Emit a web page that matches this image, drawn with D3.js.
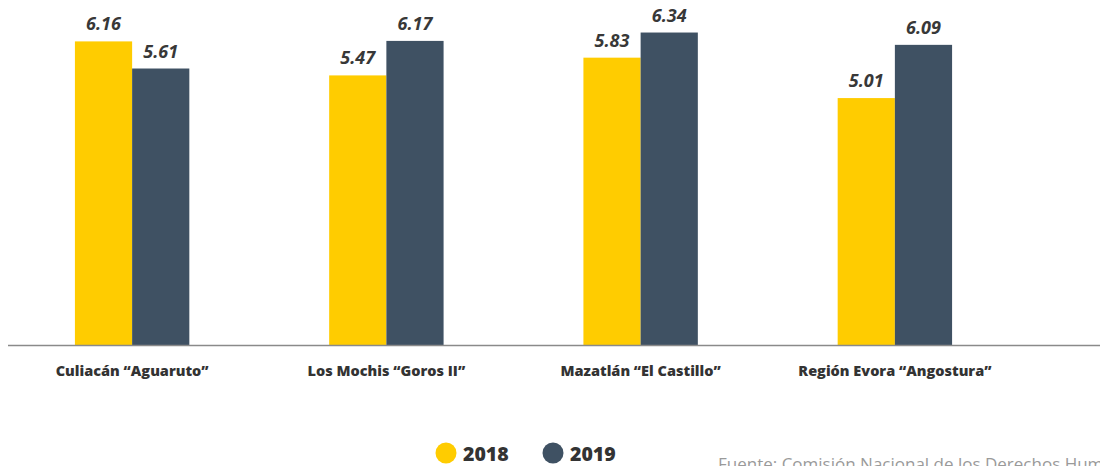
<!DOCTYPE html>
<html>
<head>
<meta charset="utf-8">
<script src="https://cdn.jsdelivr.net/npm/d3@7"></script>
<style>
  html, body { margin: 0; padding: 0; background: #fff; }
  svg { display: block; }
</style>
</head>
<body>
<svg id="chart" width="1100" height="466"></svg>
<script>
// Centros penitenciarios evaluados
const centros = ["Culiacán “Aguaruto”", "Los Mochis “Goros II”", "Mazatlán “El Castillo”", "Región Evora “Angostura”"];
const anios = ["2018", "2019"];
// Calificación por año
const valores2018 = [6.16, 5.47, 5.83, 5.01];
const valores2019 = [5.61, 6.17, 6.34, 6.09];
const colores = ["#FFCC00", "#3F5163"];
const fuente = "Fuente: Comisión Nacional de los Derechos Humanos";

const series = [valores2018, valores2019];
const rows = centros.map((c, i) => ({ centro: c, vals: anios.map((a, j) => ({ anio: a, v: series[j][i] })) }));

const svg = d3.select("#chart");
const baseY = 345;

const x0 = d3.scaleBand().domain(centros).range([5, 1022]).paddingInner(0.55).paddingOuter(0.275);
const x1 = d3.scaleBand().domain(anios).range([0, x0.bandwidth()]);
const y = d3.scaleLinear().domain([0, 7]).range([baseY, 0]);
const color = d3.scaleOrdinal().domain(anios).range(colores);

const g = svg.append("g");
const grupos = g.selectAll("g.grupo").data(rows).join("g")
  .attr("class", "grupo")
  .attr("transform", d => `translate(${x0(d.centro)},0)`);

grupos.selectAll("rect").data(d => d.vals).join("rect")
  .attr("x", d => x1(d.anio))
  .attr("y", d => y(d.v))
  .attr("width", x1.bandwidth())
  .attr("height", d => baseY - y(d.v))
  .attr("fill", d => color(d.anio));

grupos.selectAll("text.valor").data(d => d.vals).join("text")
  .attr("class", "valor")
  .attr("x", d => x1(d.anio) + x1.bandwidth() / 2)
  .attr("y", d => y(d.v) - 11)
  .attr("text-anchor", "middle")
  .attr("font-family", "'Open Sans', sans-serif")
  .attr("font-weight", 700)
  .attr("font-style", "italic")
  .attr("font-size", 18)
  .attr("fill", "#383838")
  .text(d => d.v.toFixed(2));

// Eje horizontal
const xAxis = d3.axisBottom(x0).tickSize(0).tickPadding(21);
const axisG = svg.append("g").attr("transform", `translate(0,${baseY})`).call(xAxis);
axisG.select(".domain").attr("d", `M8,0.5H1100`).attr("stroke", "#8a8a8a").attr("stroke-width", 1.6);
axisG.selectAll(".tick text")
  .attr("font-family", "'Open Sans', sans-serif")
  .attr("font-weight", 800)
  .attr("font-size", 14.5)
  .attr("fill", "#333");

// Leyenda
const leyenda = svg.append("g");
const legX = [446, 553];
anios.forEach((a, i) => {
  leyenda.append("circle").attr("cx", legX[i]).attr("cy", 453).attr("r", 10.5).attr("fill", color(a));
  leyenda.append("text").attr("x", legX[i] + 17).attr("y", 460.5)
    .attr("font-family", "'Open Sans', sans-serif").attr("font-weight", 800)
    .attr("font-size", 19.5).attr("fill", "#333").text(a);
});

svg.append("text").attr("x", 718).attr("y", 470)
  .attr("font-family", "'Open Sans', sans-serif").attr("font-size", 17)
  .attr("fill", "#9a9a9a").text(fuente);
</script>
</body>
</html>
